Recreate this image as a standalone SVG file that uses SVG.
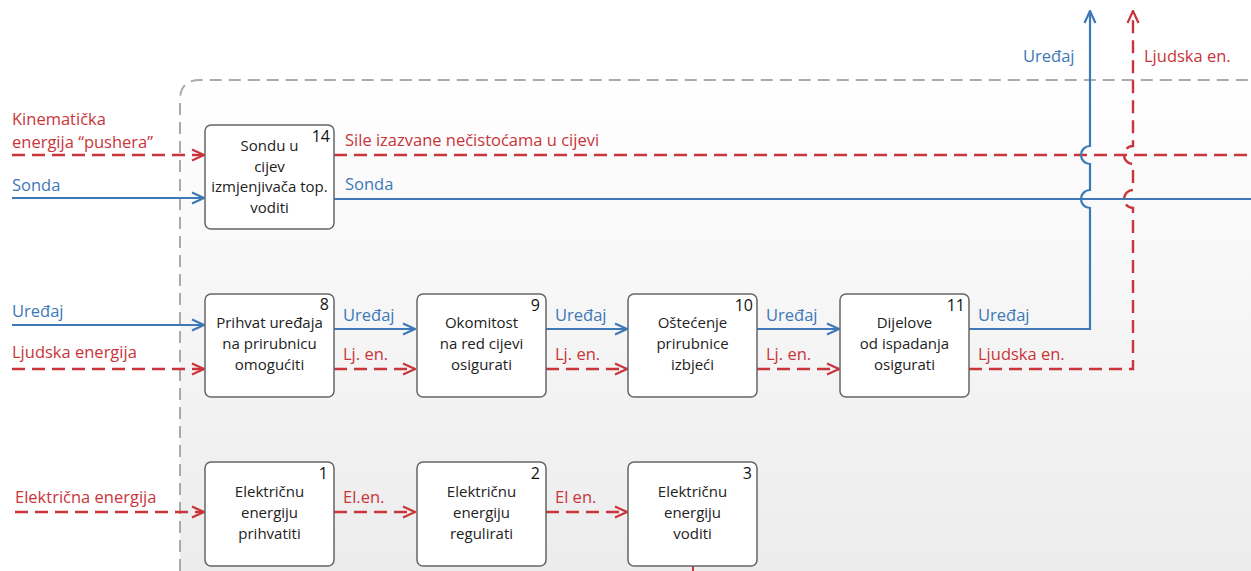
<svg xmlns="http://www.w3.org/2000/svg" width="1251" height="571" viewBox="0 0 1251 571">
<defs>
<linearGradient id="bg" x1="0" y1="0" x2="0" y2="1">
<stop offset="0" stop-color="#ffffff"/>
<stop offset="1" stop-color="#ececec"/>
</linearGradient>
<marker id="ab" viewBox="0 0 14 14" refX="13" refY="7" markerWidth="14" markerHeight="14" markerUnits="userSpaceOnUse" orient="auto">
<path d="M1,1.5 L13,7 L1,12.5" fill="none" stroke="#3d79b6" stroke-width="2.2"/>
</marker>
<marker id="ar" viewBox="0 0 14 14" refX="13" refY="7" markerWidth="14" markerHeight="14" markerUnits="userSpaceOnUse" orient="auto">
<path d="M1,1.5 L13,7 L1,12.5" fill="none" stroke="#c9353a" stroke-width="2.2"/>
</marker>
<style>
text{font-family:"Open Sans","Liberation Sans",sans-serif;font-size:16.5px}
.b{fill:#3d79b6}
.r{fill:#c9353a}
.bl{stroke:#3d79b6;stroke-width:2.2;fill:none}
.rl{stroke:#c9353a;stroke-width:2.4;fill:none;stroke-dasharray:13 7}
.box{fill:#fff;stroke:#666;stroke-width:1.5}
.t{fill:#222;text-anchor:middle;font-size:15px}
.n{fill:#111;text-anchor:end;font-size:16px}
</style>
</defs>
<rect width="1251" height="571" fill="#fff"/>
<path d="M180,571 V100 Q180,80 200,80 H1251 V571 Z" fill="url(#bg)"/>
<path d="M180,571 V100 Q180,80 200,80 H1251" fill="none" stroke="#aaa" stroke-width="2" stroke-dasharray="12 7"/>

<g id="connectors">
<path class="rl" d="M12,155 H204" marker-end="url(#ar)"/>
<path class="bl" d="M12,198 H204" marker-end="url(#ab)"/>
<path class="rl" d="M334,155 H1251"/>
<path class="bl" d="M334,199 H1251"/>
<path class="bl" d="M12,325 H204" marker-end="url(#ab)"/>
<path class="rl" d="M12,369 H204" marker-end="url(#ar)"/>
<path class="bl" d="M334,329 H415" marker-end="url(#ab)"/>
<path class="rl" d="M334,369 H415" marker-end="url(#ar)"/>
<path class="bl" d="M546,329 H627" marker-end="url(#ab)"/>
<path class="rl" d="M546,369 H627" marker-end="url(#ar)"/>
<path class="bl" d="M757,329 H839" marker-end="url(#ab)"/>
<path class="rl" d="M757,369 H839" marker-end="url(#ar)"/>
<path class="bl" d="M969,329 H1090 V208 A9,9 0 0 1 1090,190 V164 A9,9 0 0 1 1090,146 V11" marker-end="url(#ab)"/>
<path class="rl" d="M969,369 H1133 V208 A9,9 0 0 1 1133,190 V164 A9,9 0 0 1 1133,146 V11" marker-end="url(#ar)"/>
<path class="rl" d="M15,512 H204" marker-end="url(#ar)"/>
<path class="rl" d="M334,512 H415" marker-end="url(#ar)"/>
<path class="rl" d="M546,512 H627" marker-end="url(#ar)"/>
<path d="M693,566 V571" stroke="#c9353a" stroke-width="2"/>
</g>

<g id="labels">
<text class="r" x="12" y="125">Kinematička</text>
<text class="r" x="12" y="148">energija “pushera”</text>
<text class="b" x="12" y="191">Sonda</text>
<text class="r" x="345" y="146">Sile izazvane nečistoćama u cijevi</text>
<text class="b" x="345" y="190">Sonda</text>
<text class="b" x="1023" y="62">Uređaj</text>
<text class="r" x="1144" y="62">Ljudska en.</text>
<text class="b" x="12" y="317">Uređaj</text>
<text class="r" x="12" y="358">Ljudska energija</text>
<text class="b" x="343" y="321">Uređaj</text>
<text class="r" x="343" y="360">Lj. en.</text>
<text class="b" x="555" y="321">Uređaj</text>
<text class="r" x="555" y="360">Lj. en.</text>
<text class="b" x="766" y="321">Uređaj</text>
<text class="r" x="766" y="360">Lj. en.</text>
<text class="b" x="978" y="321">Uređaj</text>
<text class="r" x="978" y="360">Ljudska en.</text>
<text class="r" x="15" y="503">Električna energija</text>
<text class="r" x="343" y="503">El.en.</text>
<text class="r" x="555" y="503">El en.</text>
</g>

<g id="node14">
<rect class="box" x="205" y="125" width="129" height="104" rx="6"/>
<text class="n" x="330" y="142">14</text>
<text class="t" x="269.5" y="151">Sondu u</text>
<text class="t" x="269.5" y="171.5">cijev</text>
<text class="t" x="269.5" y="192">izmjenjivača top.</text>
<text class="t" x="269.5" y="212.5">voditi</text>
</g>

<g id="node8">
<rect class="box" x="205" y="294" width="129" height="103" rx="6"/>
<text class="n" x="329" y="310">8</text>
<text class="t" x="269.5" y="328">Prihvat uređaja</text>
<text class="t" x="269.5" y="349">na prirubnicu</text>
<text class="t" x="269.5" y="370">omogućiti</text>
</g>

<g id="node9">
<rect class="box" x="417" y="294" width="129" height="103" rx="6"/>
<text class="n" x="540" y="311">9</text>
<text class="t" x="481.5" y="328">Okomitost</text>
<text class="t" x="481.5" y="349">na red cijevi</text>
<text class="t" x="481.5" y="370">osigurati</text>
</g>

<g id="node10">
<rect class="box" x="628" y="294" width="129" height="103" rx="6"/>
<text class="n" x="753" y="311">10</text>
<text class="t" x="692.5" y="328">Oštećenje</text>
<text class="t" x="692.5" y="349">prirubnice</text>
<text class="t" x="692.5" y="370">izbjeći</text>
</g>

<g id="node11">
<rect class="box" x="840" y="294" width="129" height="103" rx="6"/>
<text class="n" x="965" y="311">11</text>
<text class="t" x="904.5" y="328">Dijelove</text>
<text class="t" x="904.5" y="349">od ispadanja</text>
<text class="t" x="904.5" y="370">osigurati</text>
</g>

<g id="node1">
<rect class="box" x="205" y="462" width="129" height="104" rx="6"/>
<text class="n" x="328" y="479">1</text>
<text class="t" x="269.5" y="497">Električnu</text>
<text class="t" x="269.5" y="518">energiju</text>
<text class="t" x="269.5" y="539">prihvatiti</text>
</g>

<g id="node2">
<rect class="box" x="417" y="462" width="129" height="104" rx="6"/>
<text class="n" x="540" y="479">2</text>
<text class="t" x="481.5" y="497">Električnu</text>
<text class="t" x="481.5" y="518">energiju</text>
<text class="t" x="481.5" y="539">regulirati</text>
</g>

<g id="node3">
<rect class="box" x="628" y="462" width="129" height="104" rx="6"/>
<text class="n" x="752" y="479">3</text>
<text class="t" x="692.5" y="497">Električnu</text>
<text class="t" x="692.5" y="518">energiju</text>
<text class="t" x="692.5" y="539">voditi</text>
</g>
</svg>
